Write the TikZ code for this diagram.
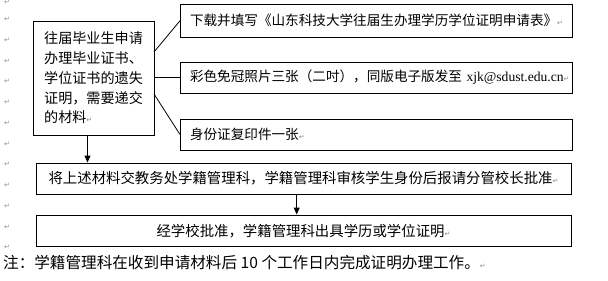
\documentclass[tikz,border=0pt]{standalone}
\usepackage{fontspec}
\setmainfont{Noto Sans CJK SC}
\newfontfamily\lserif{Liberation Serif}
\newfontfamily\dejavu{DejaVu Sans}
\usetikzlibrary{arrows.meta}
\definecolor{markgray}{HTML}{8C8C8C}
\newcommand\parmark{{\dejavu\fontsize{7}{7}\selectfont\textcolor{markgray}{↵}}}
\begin{document}
\begin{tikzpicture}[x=1pt,y=-1pt,
  box/.style={draw,line width=1pt,inner sep=0pt},
  rowbox/.style={box,minimum width=391.5pt,inner xsep=9.5pt,text width=372.5pt,align=left,font=\fontsize{13.6}{16}\selectfont},
  widebox/.style={box,minimum width=535pt,text width=533pt,align=center,font=\fontsize{14.4}{17}\selectfont},
  conn/.style={line width=0.8pt},
  arr/.style={line width=1pt,-{Triangle[width=6pt,length=7pt]}},
  mk/.style={inner sep=0pt,font=\dejavu\fontsize{7}{7}\selectfont,text=markgray}]
\useasboundingbox (0,0) rectangle (608,281);
% left margin paragraph marks
\node[mk] (m0) at (7,2.5) {↵};
\foreach \i in {1,...,12}
  \node[mk] (m\i) at (7,{-1.5+20.77*\i}) {↵};
% boxes
\node[box,minimum width=121pt,minimum height=114pt,align=left,font=\fontsize{14.1}{19.8}\selectfont] (b1) at (93.5,78)
  {往届毕业生申请\\办理毕业证书、\\学位证书的遗失\\证明，需要递交\\的材料\parmark};
\node[rowbox,minimum height=32.5pt] (b2) at (376.25,20.75)
  {\mbox{下载并填写《山东科技大学往届生办理学历学位证明申请表》\parmark}};
\node[rowbox,minimum height=31pt] (b3) at (376.25,77.5)
  {\mbox{彩色免冠照片三张（二吋），同版电子版发至 {\lserif xjk@sdust.edu.cn}\parmark}};
\node[rowbox,minimum height=31pt] (b4) at (376.25,134.5)
  {\mbox{身份证复印件一张\parmark}};
\node[widebox,minimum height=31pt] (b5) at (303.5,178.5)
  {\mbox{将上述材料交教务处学籍管理科，学籍管理科审核学生身份后报请分管校长批准\parmark}};
\node[widebox,minimum height=31.5pt] (b6) at (303.5,230.75)
  {\mbox{经学校批准，学籍管理科出具学历或学位证明\parmark}};
\node[inner sep=0pt,anchor=west,font=\fontsize{15.6}{18}\selectfont] (note) at (3,263)
  {注：学籍管理科在收到申请材料后 10 个工作日内完成证明办理工作。\parmark};
% connectors
\coordinate (c1) at (154,52);
\coordinate (c3) at (154,94);
\draw[conn] (c1) -- (b2.west);
\draw[conn] (b1.east |- b3.west) -- (b3.west);
\draw[conn] (c3) -- (b4.west);
\coordinate (a1) at (87.5,135);
\draw[arr] (a1) -- (a1 |- b5.north);
\coordinate (a2) at (296.7,194);
\draw[arr] (a2) -- (a2 |- b6.north);
\end{tikzpicture}
\end{document}
